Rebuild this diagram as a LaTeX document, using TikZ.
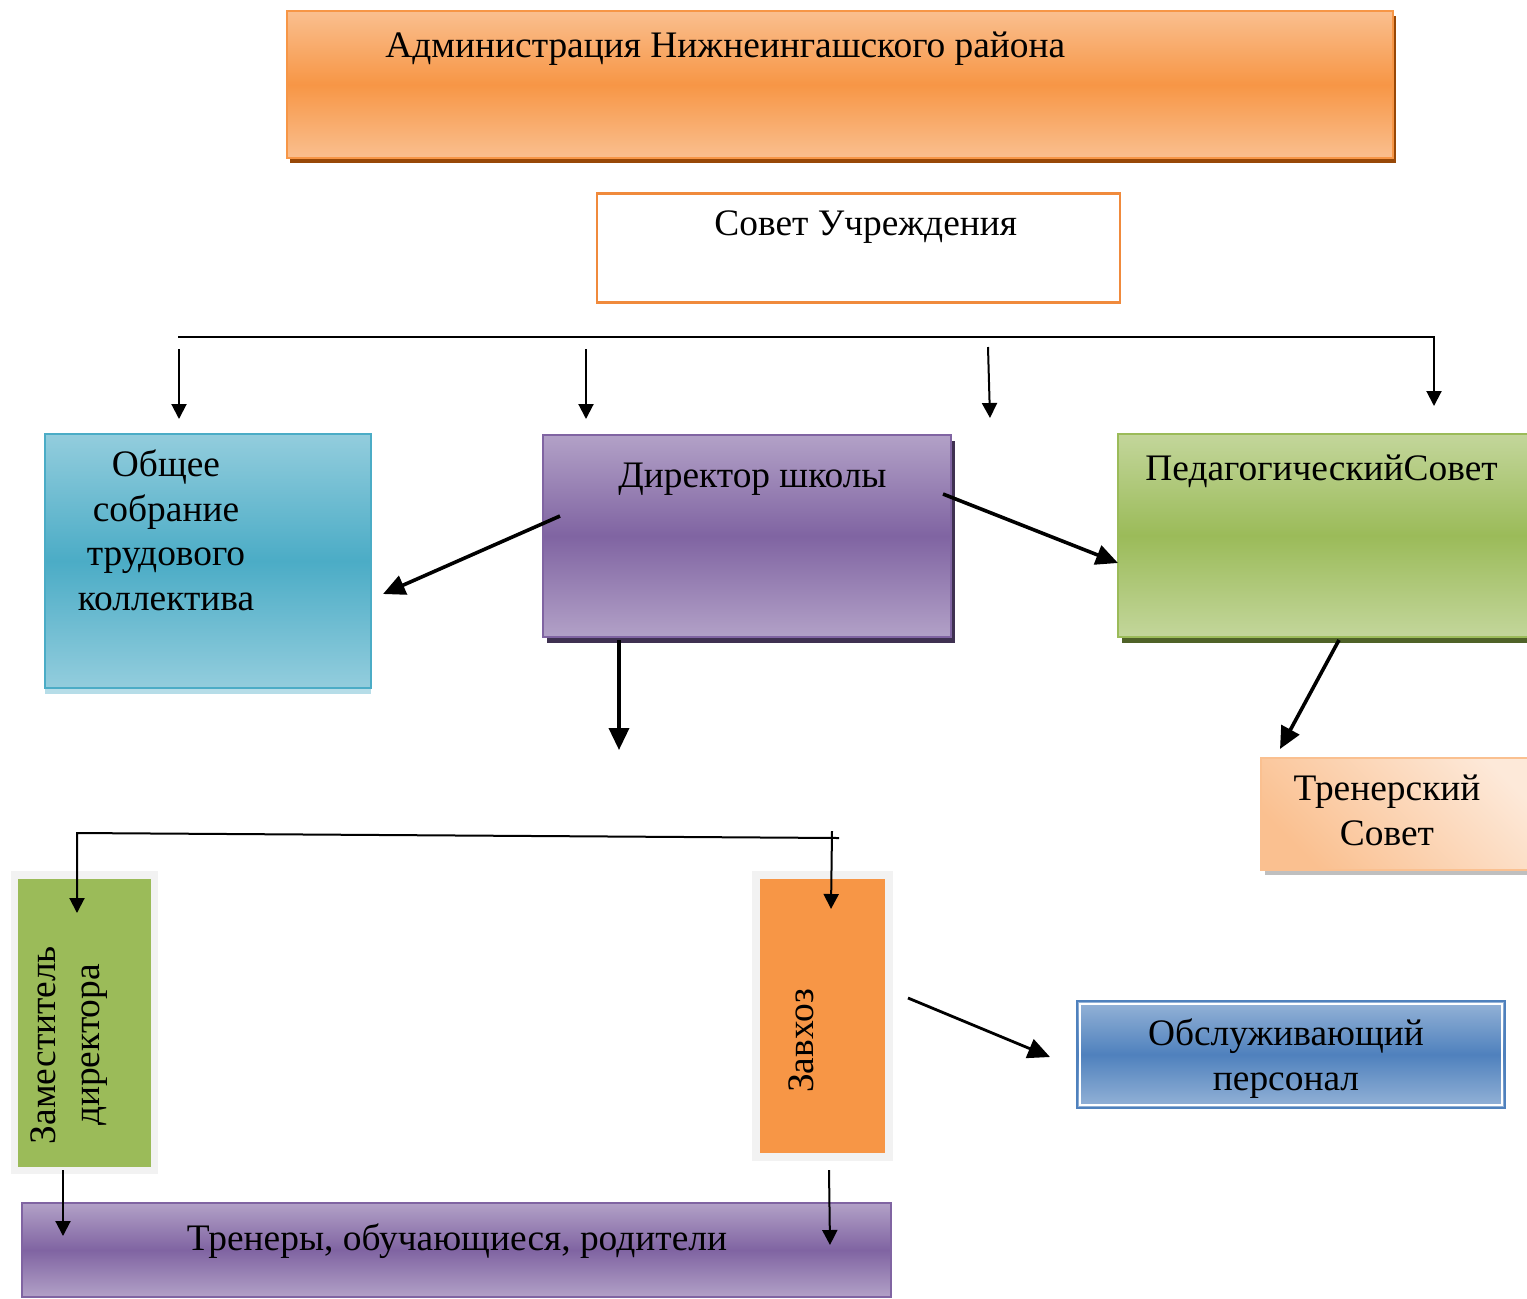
\documentclass[tikz,border=0pt]{standalone}
\usepackage{fontspec}
\setmainfont{Liberation Serif}
\usetikzlibrary{positioning}
\usetikzlibrary{shadows,arrows.meta}

\definecolor{admorange}{HTML}{F79646}
\definecolor{admlight}{HTML}{FABF8F}
\definecolor{admshadow}{HTML}{984807}
\definecolor{sovetline}{HTML}{F08A3C}
\definecolor{obshlight}{HTML}{93CDDD}
\definecolor{obshmid}{HTML}{4BACC6}
\definecolor{obshshadow}{HTML}{B6DDE8}
\definecolor{dirlight}{HTML}{B2A1C7}
\definecolor{dirmid}{HTML}{8064A2}
\definecolor{dirshadow}{HTML}{3F3151}
\definecolor{pedlight}{HTML}{C3D69B}
\definecolor{pedmid}{HTML}{9BBB59}
\definecolor{pedshadow}{HTML}{4F6228}
\definecolor{trenlight}{HTML}{FDE9D9}
\definecolor{trenorange}{HTML}{FAC090}
\definecolor{framegray}{HTML}{F2F2F2}
\definecolor{obsllight}{HTML}{95B3D7}
\definecolor{obslmid}{HTML}{4F81BD}

\begin{document}
\begin{tikzpicture}[x = 0.5pt, y = -0.5pt,
    txt/.style = {font = \fontsize{18.7}{22.2}\selectfont, inner sep = 0pt},
    box/.style = {shape = rectangle, inner sep = 0pt, line width = 1pt},
    admbox/.style = {box, draw = admorange, top color = admlight, bottom color = admlight, middle color = admorange, drop shadow = {shadow xshift = 1.5pt, shadow yshift = -2.5pt, fill = admshadow, opacity = 1}},
    sovetbox/.style = {box, draw = sovetline, fill = white, line width = 1.3pt},
    obshbox/.style = {box, draw = obshmid, top color = obshlight, bottom color = obshlight, middle color = obshmid, drop shadow = {shadow xshift = 0pt, shadow yshift = -3pt, fill = obshshadow, opacity = 1}},
    dirbox/.style = {box, draw = dirmid, top color = dirlight, bottom color = dirlight, middle color = dirmid, drop shadow = {shadow xshift = 2pt, shadow yshift = -3pt, fill = dirshadow, opacity = 1}},
    pedbox/.style = {box, draw = pedmid, top color = pedlight, bottom color = pedlight, middle color = pedmid, drop shadow = {shadow xshift = 2pt, shadow yshift = -3pt, fill = pedshadow, opacity = 1}},
    trenbox/.style = {box, draw = trenorange, top color = trenlight, bottom color = trenorange, shading angle = -45, drop shadow = {shadow xshift = 2pt, shadow yshift = -2.5pt, fill = black!25, opacity = 1}},
    zambox/.style = {box, draw = framegray, fill = pedmid, line width = 3.75pt},
    zavbox/.style = {box, draw = framegray, fill = admorange, line width = 4pt},
    obslbox/.style = {box, draw = obslmid, top color = obsllight, bottom color = obsllight, middle color = obslmid},
    pupbox/.style = {box, draw = dirmid, top color = dirlight, bottom color = dirlight, middle color = dirmid},
    thinarr/.style = {line width = 1pt, -{Triangle[length = 7.5pt, width = 7.5pt]}},
    thickarr/.style = {line width = 1.8pt, -{Triangle[length = 11pt, width = 10pt]}},
    ]
    \useasboundingbox (0, 0) rectangle (1527, 1298);

    % boxes
    \node[admbox, minimum width = 553pt, minimum height = 73.5pt] (admin) at (840, 84.5) {};
    \node[sovetbox, minimum width = 261.5pt, minimum height = 54.75pt] (sovet) at (858.5, 248) {};
    \node[obshbox, minimum width = 163pt, minimum height = 127pt] (obsh) at (208, 561) {};
    \node[dirbox, minimum width = 204pt, minimum height = 101pt] (dir) at (747, 536) {};
    \node[pedbox, minimum width = 213.5pt, minimum height = 101.5pt] (ped) at (1331.5, 535.5) {};
    \node[trenbox, minimum width = 141.75pt, minimum height = 56.25pt] (tren) at (1403, 814) {};
    \node[zambox, minimum width = 70pt, minimum height = 147.75pt] (zam) at (84.25, 1022.5) {};
    \node[zavbox, minimum width = 66.5pt, minimum height = 141.25pt] (zav) at (822.5, 1015.75) {};
    \node[obslbox, minimum width = 214pt, minimum height = 53.5pt] (obsl) at (1291, 1054.5) {};
    \draw[white, line width = 1pt] ([xshift = 2pt, yshift = -2pt]obsl.north west) rectangle ([xshift = -2pt, yshift = 2pt]obsl.south east);
    \node[pupbox, minimum width = 434.5pt, minimum height = 47pt] (pup) at (456.5, 1250) {};

    % texts (multi-line ones sit on their last baseline)
    \node[txt, anchor = base west] (adminT) at (385, 57) {Администрация Нижнеингашского района};
    \node[txt, anchor = base west] (sovetT) at (714, 235) {Совет Учреждения};
    \node[txt, anchor = base, align = center] (obshT) at (166, 610) {Общее\\собрание\\трудового\\коллектива};
    \node[txt, anchor = base west] (dirT) at (618, 487) {Директор школы};
    \node[txt, anchor = base west] (pedT) at (1145, 480) {ПедагогическийСовет};
    \node[txt, anchor = base, align = center] (trenT) at (1387, 845) {Тренерский\\Совет};
    \node[txt, rotate = 90, align = center] (zamT) at (69, 1045) {Заместитель\\директора};
    \node[txt, rotate = 90] (zavT) at (801, 1041) {Завхоз};
    \node[txt, anchor = base, align = center] (obslT) at (1286, 1090) {Обслуживающий\\персонал};
    \node[txt, anchor = base] (pupT) at (457, 1250) {Тренеры, обучающиеся, родители};

    % arrow ends
    \coordinate (busL) at (178, 337);
    \coordinate (pedIn) at (1434, 406);
    \coordinate (obshTop) at (179, 349);
    \coordinate (obshIn) at (179, 419);
    \coordinate (dirTop) at (586, 349);
    \coordinate (dirIn) at (586, 419);
    \coordinate (midTop) at (988, 347);
    \coordinate (midIn) at (990, 418);
    \coordinate (dirL) at (560, 516);
    \coordinate (obshR) at (383, 594);
    \coordinate (dirR) at (943, 494);
    \coordinate (pedL) at (1118, 563);
    \coordinate (pedB) at (1339, 640);
    \coordinate (trenIn) at (1280, 749);
    \coordinate (dirB) at (619, 640);
    \coordinate (dirDown) at (619, 750);
    \coordinate (busR2) at (839, 838);
    \coordinate (busL2) at (77, 833);
    \coordinate (zamIn) at (77, 913);
    \coordinate (zavTop) at (832, 831);
    \coordinate (zavIn) at (831, 909);
    \coordinate (zamB) at (63, 1170);
    \coordinate (pupL) at (63, 1236);
    \coordinate (zavB) at (829, 1170);
    \coordinate (pupR) at (830, 1245);
    \coordinate (zavR) at (908, 998);
    \coordinate (obslIn) at (1050, 1057);

    % connectors
    \draw[thinarr] (busL) -| (pedIn);
    \draw[thinarr] (obshTop) -- (obshIn);
    \draw[thinarr] (dirTop) -- (dirIn);
    \draw[thinarr] (midTop) -- (midIn);
    \draw[thickarr] (dirL) -- (obshR);
    \draw[thickarr] (dirR) -- (pedL);
    \draw[thickarr] (pedB) -- (trenIn);
    \draw[thickarr] (dirB) -- (dirDown);
    \draw[thinarr] (busR2) -- (busL2) -- (zamIn);
    \draw[thinarr] (zavTop) -- (zavIn);
    \draw[thinarr] (zamB) -- (pupL);
    \draw[thinarr] (zavB) -- (pupR);
    \draw[thickarr, line width = 1.4pt] (zavR) -- (obslIn);
\end{tikzpicture}
\end{document}
